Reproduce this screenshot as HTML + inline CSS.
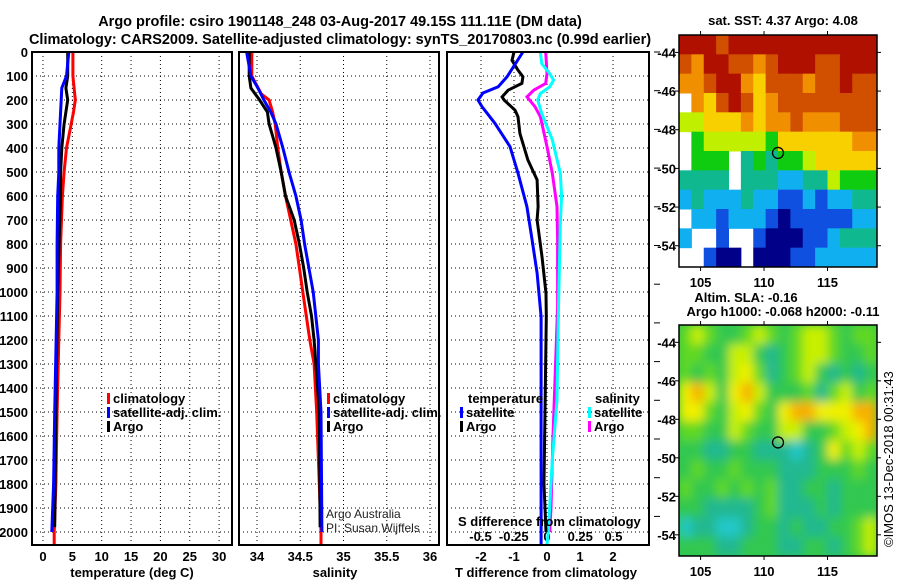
<!DOCTYPE html>
<html><head><meta charset="utf-8"><title>Argo profile</title>
<style>
html,body{margin:0;padding:0;background:#fff;}
svg{display:block;font-family:"Liberation Sans",Arial,sans-serif;}
.b{font-weight:bold;font-size:13px;}
.t{font-weight:bold;font-size:14.5px;}
</style></head><body>
<svg id="fig" width="900" height="580" viewBox="0 0 900 580" xmlns="http://www.w3.org/2000/svg">
<defs>
<filter id="blur" x="-5%" y="-5%" width="110%" height="110%"><feGaussianBlur stdDeviation="5"/></filter>
<clipPath id="slaclip"><rect x="679" y="325" width="198" height="231"/></clipPath>
</defs>
<text class="t" x="340" y="26" text-anchor="middle">Argo profile: csiro 1901148_248 03-Aug-2017 49.15S 111.11E (DM data)</text>
<text class="t" x="340" y="44" text-anchor="middle">Climatology: CARS2009. Satellite-adjusted climatology: synTS_20170803.nc (0.99d earlier)</text>
<g id="layer"></g>
</svg>
<script>
// depth levels (dbar)
const depthTicks=[0,100,200,300,400,500,600,700,800,900,1000,1100,1200,1300,1400,1500,1600,1700,1800,1900,2000];
// temperature panel
const tempTicks=[0,5,10,15,20,25,30];
const tClimD=[0,100,150,200,250,300,400,500,600,800,1000,1200,1500,1800,2000,2050];
const tClim=[5.1,5.1,5.3,5.5,5.2,4.8,4.0,3.6,3.3,3.0,2.9,2.7,2.4,2.2,1.9,1.9];
const tSatD=[0,100,150,200,300,400,500,600,800,1000,1500,1800,2000];
const tSat=[4.4,4.0,3.2,3.1,2.9,2.7,2.7,2.5,2.4,2.4,2.0,1.8,1.5];
const tArgoD=[0,100,150,200,300,400,500,600,750,1000,1500,1980];
const tArgo=[4.2,4.2,3.9,4.2,3.6,3.2,3.0,3.0,2.8,2.5,2.2,2.0];
// salinity panel
const salTicks=[34,34.5,35,35.5,36];
const sClimD=[0,100,175,200,250,300,400,500,600,700,800,900,1000,1100,1200,1300,1500,1700,2000,2050];
const sClim=[33.94,33.94,34.05,34.14,34.18,34.21,34.24,34.28,34.33,34.39,34.45,34.49,34.53,34.57,34.61,34.66,34.69,34.71,34.74,34.74];
const sSatD=[0,100,150,200,250,300,400,500,600,700,800,900,1000,1100,1200,1300,1500,2000];
const sSat=[33.88,33.93,34.01,34.08,34.16,34.22,34.30,34.37,34.45,34.51,34.55,34.60,34.65,34.68,34.71,34.71,34.74,34.75];
const sArgoD=[0,100,150,200,250,300,350,400,500,600,700,800,900,1000,1100,1200,1400,1500,1980];
const sArgo=[33.91,33.91,33.93,34.03,34.12,34.14,34.18,34.22,34.28,34.33,34.43,34.49,34.54,34.58,34.63,34.66,34.70,34.72,34.73];
// difference panel
const tDiffTicks=[-2,-1,0,1,2];
const sDiffTicks=[-0.5,-0.25,0,0.25,0.5];
const dTSatD=[0,103,145,171,200,228,297,394,505,644,783,921,1103,1500,2050];
const dTSat=[-0.73,-1.21,-1.48,-1.94,-2.09,-1.97,-1.58,-1.12,-0.88,-0.61,-0.45,-0.30,-0.18,-0.18,-0.18];
const dTArgoD=[0,35,76,103,131,159,187,200,242,270,339,450,533,644,700,853,1006,1103,1800,2000];
const dTArgo=[-1.0,-1.06,-0.88,-0.73,-0.76,-1.18,-1.36,-1.3,-0.97,-0.88,-0.82,-0.58,-0.30,-0.27,-0.30,-0.15,-0.03,-0.02,-0.09,-0.03];
const dSArgoD=[0,90,131,159,187,228,270,394,505,644,783,1061,1600,1900,2000];
const dSArgo=[-0.01,0.0,-0.01,-0.10,-0.15,-0.09,-0.05,0.0,0.04,0.075,0.08,0.08,0.045,0.03,0.02];
const dSSatD=[0,48,90,117,145,173,200,256,366,505,602,714,1103,1450,1700,2000,2050];
const dSSat=[-0.05,-0.04,0.02,0.05,0.02,-0.05,-0.07,-0.04,0.04,0.10,0.11,0.10,0.085,0.075,0.04,0.01,0.0];
// maps
const latTicks=[-44,-46,-48,-50,-52,-54];
const lonTicks=[105,110,115];
const sstGrid=[
[9,9,9,8,9,9,9,9,9,9,9,9,9,9,9,9],
[8,7,9,9,8,8,7,8,9,9,9,8,8,9,9,9],
[7,7,8,9,9,7,6,8,8,8,7,8,8,9,8,8],
[-1,7,6,8,9,8,6,7,8,8,8,8,8,8,8,8],
[5,5,6,6,6,7,6,7,7,8,7,7,7,8,8,8],
[-1,4,5,5,5,5,5,4,6,6,6,6,6,6,7,7],
[-1,4,4,4,-1,3,4,3,4,4,5,6,6,6,6,6],
[3,3,3,3,-1,3,3,3,2,2,3,3,5,4,4,4],
[2,3,2,2,2,3,2,2,1,1,2,1,2,2,3,3],
[-1,2,2,1,2,2,2,1,0,1,1,1,1,1,2,2],
[2,-1,-1,1,-1,-1,1,0,0,0,1,1,2,3,3,3],
[-1,-1,1,0,0,-1,0,0,0,1,1,2,2,2,2,2]];
const slaGrid=[
[3,4,3,2,2,3,4,3,2,3,4,4,3,2,3,3],
[3,3,2,2,4,4,2,1,2,3,4,4,3,2,2,3],
[3,2,3,2,4,5,3,1,2,3,4,2,1,2,1,2],
[5,6,4,2,5,6,4,2,2,2,3,1,3,4,2,3],
[5,5,3,2,4,5,3,2,5,6,6,5,5,5,6,6],
[3,3,2,2,4,3,2,2,4,4,2,2,3,4,5,6],
[2,2,1,1,2,2,1,1,1,0,1,2,5,3,4,3],
[2,3,2,2,3,2,2,2,1,1,1,2,2,2,3,2],
[3,2,2,3,2,3,2,3,1,1,2,2,1,2,2,2],
[2,2,1,1,1,1,2,3,1,1,1,2,1,2,2,2],
[0,1,1,0,0,1,2,2,1,2,1,1,2,2,3,4],
[2,2,2,1,1,2,2,2,1,1,2,2,1,2,3,4]];
const floatLon=111.1, floatLat=-49.2;

const NS="http://www.w3.org/2000/svg";
const L=document.getElementById('layer');
function mk(tag,at,parent){const e=document.createElementNS(NS,tag);for(const k in at)e.setAttribute(k,at[k]);(parent||L).appendChild(e);return e;}
function txt(s,x,y,at){const e=mk('text',Object.assign({x:x,y:y},at||{}));e.textContent=s;return e;}

const yTop=52,yBot=545;
const yD=d=>yTop+d*0.24;
const panels=[{x0:32,x1:232},{x0:239,x1:439},{x0:447,x1:649}];
const xT=v=>43+v*5.87;
const xS=v=>257+(v-34)*86.5;
const xdT=v=>547+v*33;
const xdS=v=>547+v*133;

panels.forEach((p,i)=>{
  depthTicks.forEach(d=>{
    const g=mk('line',{x1:p.x0,x2:p.x1,y1:yD(d),y2:yD(d),stroke:'#000','stroke-width':1,'stroke-dasharray':'1,3'});
    
    
  });
});
tempTicks.forEach(v=>{const g=mk('line',{x1:xT(v),x2:xT(v),y1:yTop,y2:yBot,stroke:'#000','stroke-dasharray':'1,3'});
 const t=txt(String(v),xT(v),561,{class:'b','text-anchor':'middle'});});
salTicks.forEach(v=>{const g=mk('line',{x1:xS(v),x2:xS(v),y1:yTop,y2:yBot,stroke:'#000','stroke-dasharray':'1,3'});
 const t=txt(String(v),xS(v),561,{class:'b','text-anchor':'middle'});});
tDiffTicks.forEach(v=>{const g=mk('line',{x1:xdT(v),x2:xdT(v),y1:yTop,y2:yBot,stroke:'#000','stroke-dasharray':'1,3'});
 const t=txt(String(v),xdT(v),561,{class:'b','text-anchor':'middle'});});
sDiffTicks.forEach(v=>{const t=txt(String(v),xdS(v),541,{class:'b','text-anchor':'middle'});});
depthTicks.forEach(d=>{const t=txt(String(d),28,yD(d)+5,{class:'b','text-anchor':'end'});});
[0,1,2,3,4,5,6,7,8,9,10,11,12].forEach(k=>{const y=yTop+k*38.7;if(y<=yBot){const m=mk('line',{x1:654,x2:660,y1:y,y2:y,stroke:'#000','stroke-width':1});}});

function line(xs,ds,fx,col,name){
  const pts=xs.map((v,i)=>fx(v).toFixed(1)+','+yD(ds[i]).toFixed(1)).join(' ');
  const e=mk('polyline',{points:pts,fill:'none',stroke:col,'stroke-width':3,'stroke-linejoin':'miter'});
  
  
}
line(tClim,tClimD,xT,'#ff0000','temp-climatology-line');
line(tArgo,tArgoD,xT,'#000000','temp-argo-line');
line(tSat,tSatD,xT,'#0000ff','temp-satellite-line');
line(sClim,sClimD,xS,'#ff0000','salinity-climatology-line');
line(sArgo,sArgoD,xS,'#000000','salinity-argo-line');
line(sSat,sSatD,xS,'#0000ff','salinity-satellite-line');
line(dSArgo,dSArgoD,xdS,'#ff00ff','sdiff-argo-line');
line(dSSat,dSSatD,xdS,'#00ffff','sdiff-satellite-line');
line(dTArgo,dTArgoD,xdT,'#000000','tdiff-argo-line');
line(dTSat,dTSatD,xdT,'#0000ff','tdiff-satellite-line');

panels.forEach(p=>{const r=mk('rect',{x:p.x0,y:yTop,width:p.x1-p.x0,height:yBot-yTop,fill:'none',stroke:'#000','stroke-width':2});});

function legItem(x,y,col,label,name){
  const m=mk('rect',{x:x,y:y-10,width:3,height:11,fill:col});
  
  
  const t=txt(label,x+6,y,{class:'b'});
  
  
}
legItem(107,403,'#ff0000','climatology','legend-climatology');
legItem(107,417,'#0000ff','satellite-adj. clim.','legend-satellite-adj');
legItem(107,431,'#000000','Argo','legend-argo');
legItem(327,403,'#ff0000','climatology','legend-climatology-2');
legItem(327,417,'#0000ff','satellite-adj. clim.','legend-satellite-adj-2');
legItem(327,431,'#000000','Argo','legend-argo-2');
{const t=txt('temperature',468,403,{class:'b'});}
{const t=txt('salinity',595,403,{class:'b'});}
legItem(460,417,'#0000ff','satellite','legend-t-satellite');
legItem(460,431,'#000000','Argo','legend-t-argo');
legItem(588,417,'#00ffff','satellite','legend-s-satellite');
legItem(588,431,'#ff00ff','Argo','legend-s-argo');
{const t=txt('Argo Australia',326,518,{'font-size':'12px',fill:'#222'});}
{const t=txt('PI: Susan Wijffels',326,532,{'font-size':'12px',fill:'#222'});}
{const t=txt('S difference from climatology',458,526,{class:'b','font-size':'13.5px'});}
{const t=txt('temperature (deg C)',132,577,{class:'b','text-anchor':'middle'});}
{const t=txt('salinity',335,577,{class:'b','text-anchor':'middle'});}
{const t=txt('T difference from climatology',546,577,{class:'b','text-anchor':'middle'});}

const mx0=679,mx1=877,lon0=103.3,lon1=118.9;
const xLon=v=>mx0+(v-lon0)*(mx1-mx0)/(lon1-lon0);
const sstCols=['#000088','#1050e0','#10b0f0','#10b890','#10cc10','#c0f000','#f8d000','#f09000','#d05000','#b01000'];
const slaCols=['#20c8c8','#20b890','#30c850','#60d820','#c8f000','#f0f000','#f8b000'];
function map(grid,cols,y0,y1,latTop,latBot,name,smooth){
  const yLat=v=>y0+(latTop-v)*(y1-y0)/(latTop-latBot);
  const nr=grid.length,nc=grid[0].length,cw=(mx1-mx0)/nc,ch=(y1-y0)/nr;
  let par=L;
  if(smooth){
    const clip=mk('g',{'clip-path':'url(#slaclip)'});
    
    
    mk('rect',{x:mx0,y:y0,width:mx1-mx0,height:y1-y0,fill:cols[2]},clip);
    par=mk('g',{filter:'url(#blur)'},clip);
  }
  grid.forEach((row,r)=>row.forEach((v,c)=>{
    if(v<0)return;
    const e=mk('rect',{x:(mx0+c*cw).toFixed(2),y:(y0+r*ch).toFixed(2),width:(cw+0.5).toFixed(2),height:(ch+0.5).toFixed(2),fill:cols[v]},par);
    
    
  }));
  const f=mk('rect',{x:mx0,y:y0,width:mx1-mx0,height:y1-y0,fill:'none',stroke:'#000','stroke-width':1.5});
  
  
  latTicks.forEach(v=>{const y=yLat(v);mk('line',{x1:mx0-4,x2:mx0,y1:y,y2:y,stroke:'#000'});mk('line',{x1:mx1,x2:mx1+4,y1:y,y2:y,stroke:'#000'});
    const t=txt(String(v),676,y+5,{class:'b','text-anchor':'end'});});
  lonTicks.forEach(v=>{const x=xLon(v);mk('line',{x1:x,x2:x,y1:y0-4,y2:y0,stroke:'#000'});mk('line',{x1:x,x2:x,y1:y1,y2:y1+4,stroke:'#000'});
    const t=txt(String(v),x,y1+20,{class:'b','text-anchor':'middle'});});
  const c=mk('circle',{cx:xLon(floatLon),cy:yLat(floatLat),r:5.5,fill:'none',stroke:'#000','stroke-width':1.3});
  
  
}
map(sstGrid,sstCols,35,267,-43.1,-55.1,'sst-map',false);
map(slaGrid,slaCols,325,556,-43.1,-55.1,'sla-map',true);
{const t=txt('sat. SST: 4.37 Argo: 4.08',783,25,{class:'b','text-anchor':'middle'});}
{const t=txt('Altim. SLA: -0.16',746,302,{class:'b','text-anchor':'middle'});}
{const t=txt('Argo h1000: -0.068 h2000: -0.11',783,316,{class:'b','text-anchor':'middle'});}
{const t=txt('©IMOS 13-Dec-2018 00:31:43',0,0,{'font-size':'13px',transform:'translate(893,547) rotate(-90)'});}
</script>
</body></html>
